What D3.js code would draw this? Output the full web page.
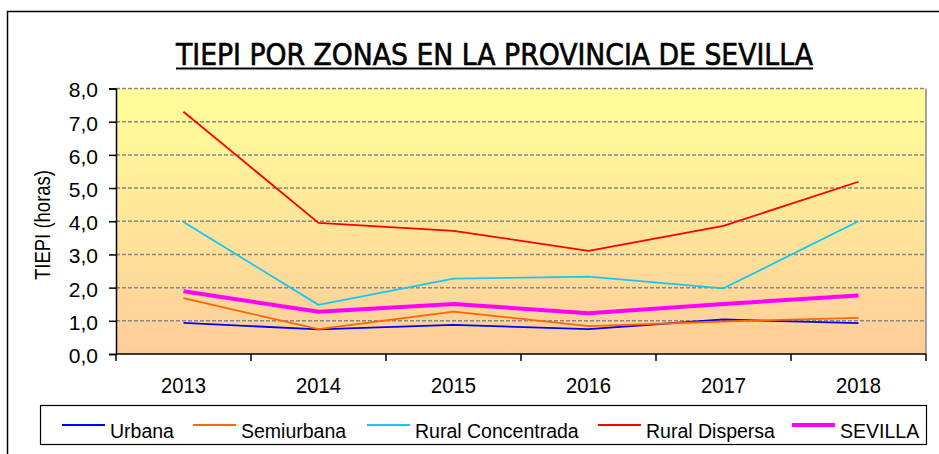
<!DOCTYPE html>
<html>
<head>
<meta charset="utf-8">
<script src="https://cdn.jsdelivr.net/npm/d3@7"></script>
<style>
  body { margin: 0; background: #fff; }
  svg { display: block; }
  .axis path, .axis line { stroke: #000; stroke-width: 1.5; }
  .axis text { font-family: "Liberation Sans", Arial, sans-serif; fill: #000; }
</style>
</head>
<body>
<div id="chart"></div>
<script>
// data ---------------------------------------------------------------
var years = ["2013", "2014", "2015", "2016", "2017", "2018"];
var yTicks = [0, 1, 2, 3, 4, 5, 6, 7, 8];

var urbana      = [0.94, 0.74, 0.88, 0.75, 1.04, 0.93];
var semiurbana  = [1.68, 0.75, 1.28, 0.84, 0.98, 1.09];
var ruralConc   = [3.98, 1.48, 2.27, 2.33, 1.98, 4.00];
var ruralDisp   = [7.30, 3.95, 3.71, 3.11, 3.86, 5.19];
var sevilla     = [1.89, 1.27, 1.51, 1.23, 1.51, 1.76];

var seriesNames = ["Urbana", "Semiurbana", "Rural Concentrada", "Rural Dispersa", "SEVILLA"];

var series = [
  {name: seriesNames[0], values: urbana,     colour: "#0000ff", w: 1.8},
  {name: seriesNames[1], values: semiurbana, colour: "#ff6600", w: 1.8},
  {name: seriesNames[2], values: ruralConc,  colour: "#17c6f2", w: 1.8},
  {name: seriesNames[3], values: ruralDisp,  colour: "#ff0000", w: 1.8},
  {name: seriesNames[4], values: sevilla,    colour: "#ff00ff", w: 4}
];

// layout -------------------------------------------------------------
var width = 939, height = 454;
var plot = {left: 116, right: 926, top: 88.5, bottom: 354};
var narrow = "'Liberation Sans Narrow', 'DejaVu Sans Condensed', sans-serif";

var svg = d3.select("#chart").append("svg")
    .attr("width", width)
    .attr("height", height);

// outer frame
svg.append("rect")
    .attr("x", 7.5).attr("y", 11.5)
    .attr("width", 940).attr("height", 450)
    .attr("fill", "#fff")
    .attr("stroke", "#000")
    .attr("stroke-width", 1.5);

// title
svg.append("text")
    .attr("x", 494.5)
    .attr("y", 65)
    .attr("text-anchor", "middle")
    .attr("textLength", 637)
    .attr("lengthAdjust", "spacingAndGlyphs")
    .style("font-family", narrow)
    .style("font-size", "30px")
    .style("stroke", "#000")
    .style("stroke-width", 0.6)
    .text("TIEPI POR ZONAS EN LA PROVINCIA DE SEVILLA");

svg.append("line")
    .attr("x1", 176).attr("x2", 813)
    .attr("y1", 68.5).attr("y2", 68.5)
    .attr("stroke", "#000")
    .attr("stroke-width", 2);

// scales
var x = d3.scaleBand()
    .domain(years)
    .range([plot.left, plot.right])
    .padding(0);

var y = d3.scaleLinear()
    .domain([0, 8])
    .range([plot.bottom, plot.top]);

var locale = d3.formatLocale({decimal: ",", thousands: ".", grouping: [3], currency: ["", "€"]});
var fmt = locale.format(".1f");

// background gradient
var defs = svg.append("defs");
var grad = defs.append("linearGradient")
    .attr("id", "bg")
    .attr("x1", 0).attr("y1", 0).attr("x2", 0).attr("y2", 1);
grad.append("stop").attr("offset", "0%").attr("stop-color", "#ffff99");
grad.append("stop").attr("offset", "100%").attr("stop-color", "#ffcc99");

svg.append("rect")
    .attr("x", plot.left).attr("y", plot.top)
    .attr("width", plot.right - plot.left)
    .attr("height", plot.bottom - plot.top)
    .attr("fill", "url(#bg)");

// grid lines
svg.append("g")
  .selectAll("line")
  .data(yTicks.slice(1))
  .enter().append("line")
    .attr("x1", plot.left).attr("x2", plot.right)
    .attr("y1", function(d) { return y(d); })
    .attr("y2", function(d) { return y(d); })
    .attr("stroke", "#888")
    .attr("stroke-width", 1.5)
    .attr("stroke-dasharray", "4,2");

// right border of plot
svg.append("line")
    .attr("x1", plot.right).attr("x2", plot.right)
    .attr("y1", plot.top).attr("y2", plot.bottom)
    .attr("stroke", "#888")
    .attr("stroke-width", 1.5);

// axes
var yAxis = svg.append("g")
    .attr("class", "axis")
    .attr("transform", "translate(" + plot.left + ",0)")
    .call(d3.axisLeft(y).tickValues(yTicks).tickFormat(fmt).tickSize(7).tickPadding(11));
yAxis.selectAll("text").style("font-size", "21px").attr("dy", "0.4em");

var xAxis = svg.append("g")
    .attr("class", "axis")
    .attr("transform", "translate(0," + plot.bottom + ")")
    .call(d3.axisBottom(x).tickSize(0).tickPadding(23));
xAxis.selectAll("text")
    .style("font-size", "22.5px")
    .attr("textLength", 45)
    .attr("lengthAdjust", "spacingAndGlyphs");
xAxis.select(".domain").attr("d", "M" + plot.left + ",0H" + plot.right);

// category boundary ticks
xAxis.selectAll(".bound")
  .data(years.concat(["end"]))
  .enter().append("line")
    .attr("class", "bound")
    .attr("x1", function(d, i) { return plot.left + i * x.bandwidth(); })
    .attr("x2", function(d, i) { return plot.left + i * x.bandwidth(); })
    .attr("y1", 0).attr("y2", 7)
    .attr("stroke", "#000")
    .attr("stroke-width", 1.5);

// y axis title
svg.append("text")
    .attr("transform", "translate(50,225) rotate(-90)")
    .attr("text-anchor", "middle")
    .attr("textLength", 110)
    .attr("lengthAdjust", "spacingAndGlyphs")
    .style("font-family", "'Liberation Sans', Arial, sans-serif")
    .style("font-size", "22px")
    .text("TIEPI (horas)");

// lines
var line = d3.line()
    .x(function(d, i) { return x(years[i]) + x.bandwidth() / 2; })
    .y(function(d) { return y(d); });

svg.append("g")
  .selectAll("path")
  .data(series)
  .enter().append("path")
    .attr("d", function(d) { return line(d.values); })
    .attr("fill", "none")
    .attr("stroke", function(d) { return d.colour; })
    .attr("stroke-width", function(d) { return d.w; })
    .attr("stroke-linejoin", "round");

// legend
svg.append("rect")
    .attr("x", 40.5).attr("y", 405.5)
    .attr("width", 886).attr("height", 39)
    .attr("fill", "#fff")
    .attr("stroke", "#000")
    .attr("stroke-width", 1.2);

var legendX = [62, 193, 367, 598, 792];

var leg = svg.append("g")
  .selectAll("g")
  .data(series)
  .enter().append("g")
    .attr("transform", function(d, i) { return "translate(" + legendX[i] + ",0)"; });

leg.append("line")
    .attr("x1", 0).attr("x2", 43)
    .attr("y1", 425).attr("y2", 425)
    .attr("stroke", function(d) { return d.colour; })
    .attr("stroke-width", function(d) { return d.w; });

leg.append("text")
    .attr("x", 48)
    .attr("y", 438)
    .style("font-family", "'Liberation Sans', Arial, sans-serif")
    .style("font-size", "19.5px")
    .text(function(d) { return d.name; });
</script>
</body>
</html>
